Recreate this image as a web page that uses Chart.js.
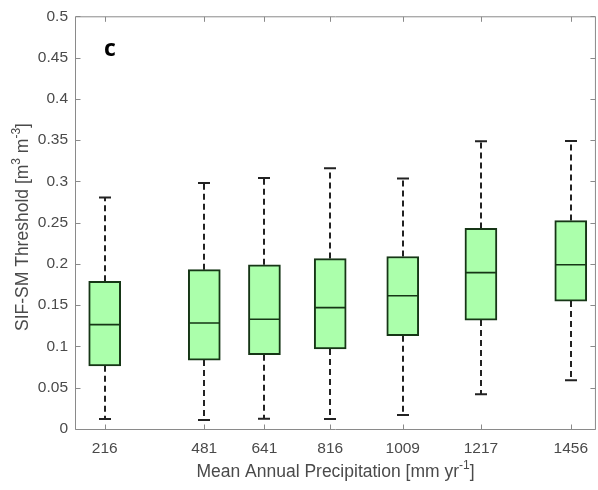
<!DOCTYPE html>
<html lang="en">
<head>
  <meta charset="UTF-8">
  <title>SIF-SM Threshold</title>
  <style>
    html, body { margin: 0; padding: 0; background: #fff; }
    #wrap { width: 598px; height: 490px; }
  </style>
</head>
<body>
  <div id="wrap"><canvas id="chart" width="598" height="490"></canvas></div>

  <script src="https://cdn.jsdelivr.net/npm/chart.js"></script>
  <script>
    // mean annual precipitation groups (x positions)
    const precip = [216, 481, 641, 816, 1009, 1217, 1456];
    // box plot stats
    const whiskerLow = [0.012, 0.011, 0.0125, 0.012, 0.017, 0.042, 0.059];
    const q1 = [0.0765, 0.0835, 0.090, 0.097, 0.113, 0.132, 0.155];
    const median = [0.1265, 0.1285, 0.133, 0.147, 0.1615, 0.1895, 0.199];
    const q3 = [0.179, 0.193, 0.199, 0.2065, 0.209, 0.243, 0.2525];
    const whiskerHigh = [0.2805, 0.298, 0.304, 0.316, 0.3035, 0.3485, 0.349];
    const yTicks = [0, 0.05, 0.1, 0.15, 0.2, 0.25, 0.3, 0.35, 0.4, 0.45, 0.5];

    const FONT = '"Liberation Sans", Arial, sans-serif';
    const AXIS = '#8a8a8a';
    const LABEL = '#4a4a4a';
    const EDGE = '#163616';
    const FILL = '#abffab';
    const BOX_W = 32;

    const boxes = precip.map((p, i) => ({ x: p, y: [q1[i], q3[i]] }));

    // whiskers, medians, inside ticks, frame and titles
    const boxExtras = {
      id: 'boxExtras',
      beforeDatasetsDraw(chart) {
        const { ctx, scales: { x, y } } = chart;
        ctx.save();
        ctx.strokeStyle = '#222';
        ctx.lineWidth = 2;
        precip.forEach((p, i) => {
          const px = Math.round(x.getPixelForValue(p));
          ctx.setLineDash([6, 4]);
          ctx.beginPath();
          ctx.moveTo(px, y.getPixelForValue(q3[i]));
          ctx.lineTo(px, y.getPixelForValue(whiskerHigh[i]));
          ctx.moveTo(px, y.getPixelForValue(q1[i]));
          ctx.lineTo(px, y.getPixelForValue(whiskerLow[i]));
          ctx.stroke();
          ctx.setLineDash([]);
          ctx.beginPath();
          [whiskerHigh[i], whiskerLow[i]].forEach(v => {
            const py = y.getPixelForValue(v);
            ctx.moveTo(px - 6, py);
            ctx.lineTo(px + 6, py);
          });
          ctx.stroke();
        });
        ctx.restore();
      },
      afterDatasetsDraw(chart) {
        const { ctx, scales: { x, y } } = chart;
        ctx.save();
        ctx.strokeStyle = EDGE;
        ctx.lineWidth = 1.6;
        ctx.beginPath();
        precip.forEach((p, i) => {
          const px = x.getPixelForValue(p);
          const py = y.getPixelForValue(median[i]);
          ctx.moveTo(px - BOX_W / 2 + 1, py);
          ctx.lineTo(px + BOX_W / 2 - 1, py);
        });
        ctx.stroke();
        ctx.restore();
      },
      afterDraw(chart) {
        const { ctx, chartArea: a, scales: { x, y } } = chart;
        ctx.save();
        ctx.strokeStyle = AXIS;
        ctx.lineWidth = 1;
        ctx.beginPath();
        const L = a.left + 0.5, R = a.right - 0.5, T = a.top + 0.5, B = a.bottom + 0.5;
        ctx.moveTo(L, T); ctx.lineTo(L, B); ctx.lineTo(R, B); ctx.lineTo(R, T); ctx.lineTo(L, T);
        yTicks.forEach(v => {
          const py = Math.round(y.getPixelForValue(v)) + 0.5;
          ctx.moveTo(L, py); ctx.lineTo(L + 5, py);
          ctx.moveTo(R, py); ctx.lineTo(R - 5, py);
        });
        precip.forEach(p => {
          const px = Math.round(x.getPixelForValue(p)) + 0.5;
          ctx.moveTo(px, B); ctx.lineTo(px, B - 5);
          ctx.moveTo(px, T); ctx.lineTo(px, T + 5);
        });
        ctx.stroke();

        // panel letter
        ctx.fillStyle = '#000';
        ctx.font = 'bold 23px "Open Sans", sans-serif';
        ctx.textAlign = 'left';
        ctx.textBaseline = 'alphabetic';
        ctx.fillText('c', 104, 56);

        // x title with superscript
        ctx.fillStyle = LABEL;
        const xParts = [['Mean Annual Precipitation [mm yr', 0], ['-1', 1], [']', 0]];
        drawParts(ctx, xParts, (a.left + a.right) / 2, 477, 17.5);

        // y title, rotated
        ctx.translate(28, 227);
        ctx.rotate(-Math.PI / 2);
        const yParts = [['SIF-SM Threshold [m', 0], ['3', 1], [' m', 0], ['-3', 1], [']', 0]];
        drawParts(ctx, yParts, 0, 0, 17.5);
        ctx.restore();
      }
    };

    function drawParts(ctx, parts, cx, base, size) {
      const fontFor = sup => (sup ? Math.round(size * 0.7) : size) + 'px ' + FONT;
      let w = 0;
      parts.forEach(([t, sup]) => { ctx.font = fontFor(sup); w += ctx.measureText(t).width; });
      let pos = cx - w / 2;
      ctx.textAlign = 'left';
      parts.forEach(([t, sup]) => {
        ctx.font = fontFor(sup);
        ctx.fillText(t, pos, sup ? base - size * 0.45 : base);
        pos += ctx.measureText(t).width;
      });
    }

    new Chart(document.getElementById('chart'), {
      type: 'bar',
      data: {
        datasets: [
          { data: boxes, backgroundColor: FILL, borderColor: EDGE, borderWidth: 2, borderSkipped: false, barThickness: BOX_W }
        ]
      },
      options: {
        responsive: false,
        animation: false,
        layout: { padding: { top: 15, right: 0, left: 0, bottom: 0 } },
        plugins: { legend: { display: false }, tooltip: { enabled: false } },
        scales: {
          x: {
            type: 'linear',
            min: 137,
            max: 1523,
            offset: false,
            grid: { display: false, drawTicks: false },
            border: { display: false },
            afterBuildTicks: s => { s.ticks = precip.map(v => ({ value: v })); },
            afterFit: s => { s.height = 61; },
            ticks: {
              color: LABEL,
              font: { family: FONT, size: 15.5 },
              padding: 10,
              maxRotation: 0,
              autoSkip: false,
              callback: v => String(v)
            }
          },
          y: {
            min: 0,
            max: 0.5,
            grid: { display: false, drawTicks: false },
            border: { display: false },
            afterBuildTicks: s => { s.ticks = yTicks.map(v => ({ value: v })); },
            afterFit: s => { s.width = 75; },
            ticks: {
              color: LABEL,
              font: { family: FONT, size: 15.5 },
              padding: 7,
              callback: v => String(+v.toFixed(2))
            }
          }
        }
      },
      plugins: [boxExtras]
    });
  </script>
</body>
</html>
